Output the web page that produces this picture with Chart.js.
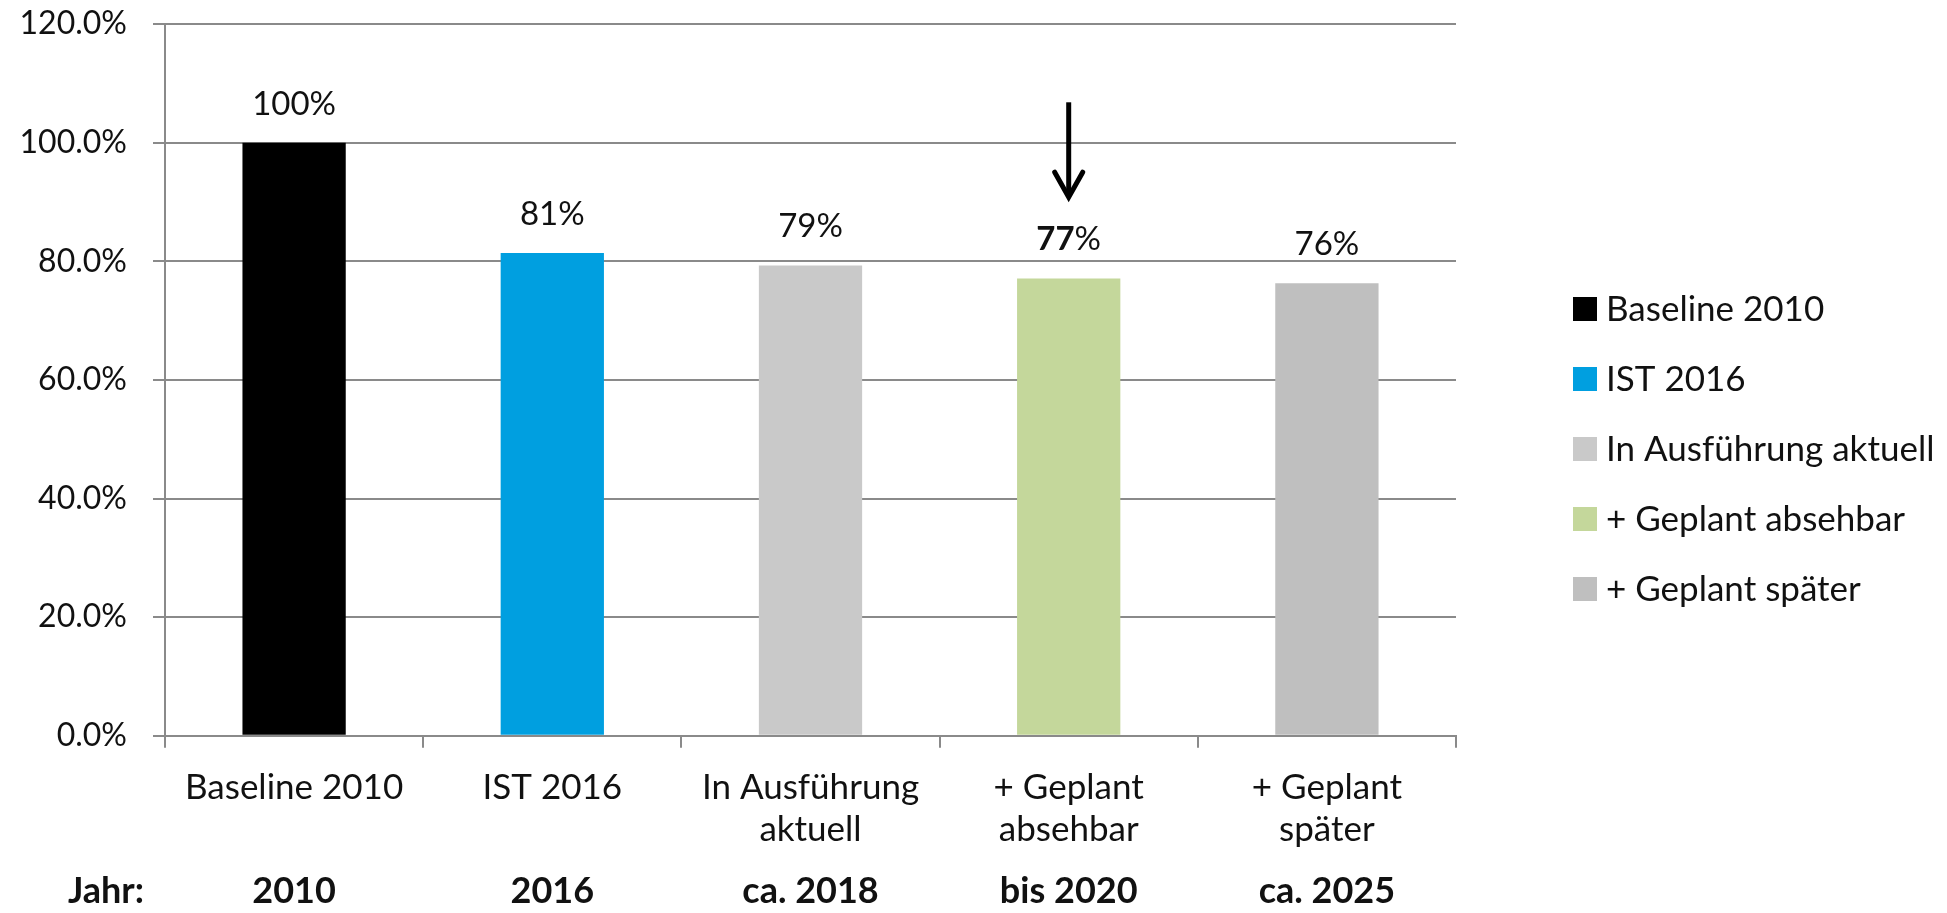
<!DOCTYPE html>
<html>
<head>
<meta charset="utf-8">
<script src="https://cdn.jsdelivr.net/npm/chart.js@4"></script>
<style>
  body { margin: 0; background: #fff; }
</style>
</head>
<body>
<canvas id="myChart" width="1947" height="913"></canvas>
<script>
const categories = [['Baseline 2010'], ['IST 2016'], ['In Ausführung', 'aktuell'], ['+ Geplant', 'absehbar'], ['+ Geplant', 'später']];
const legendLabels = ['Baseline 2010', 'IST 2016', 'In Ausführung aktuell', '+ Geplant absehbar', '+ Geplant später'];
const years = ['2010', '2016', 'ca. 2018', 'bis 2020', 'ca. 2025'];
const values = [100, 81.4, 79.3, 77.1, 76.3];
const valueLabels = ['100%', '81%', '79%', '77%', '76%'];
const barColors = ['#000000', '#009fe0', '#c9c9c9', '#c4d79b', '#bfbfbf'];
const yMax = 120;
const yStep = 20;
const yearRowTitle = 'Jahr:';
// arrow above "bis 2020"
const arrowIndex = 3;
const arrowFrom = 106.8;
const arrowTo = 90.8;

const FONT = 'Lato';
const TEXT = '#111111';
const GRID = '#8a8a8a';

const valueLabelPlugin = {
  id: 'valueLabels',
  afterDatasetsDraw(chart) {
    const ctx = chart.ctx;
    const meta = chart.getDatasetMeta(0);
    ctx.save();
    ctx.fillStyle = TEXT;
    ctx.textBaseline = 'alphabetic';
    meta.data.forEach((bar, i) => {
      const txt = valueLabels[i];
      const y = bar.y - 28;
      if (i === arrowIndex) {
        // the number is bold, the percent sign is not
        const num = txt.replace('%', '');
        ctx.font = 'bold 33px ' + FONT;
        const w1 = ctx.measureText(num).width;
        ctx.font = '33px ' + FONT;
        const w2 = ctx.measureText('%').width;
        const x0 = bar.x - (w1 + w2) / 2;
        ctx.textAlign = 'left';
        ctx.font = 'bold 33px ' + FONT;
        ctx.fillText(num, x0, y);
        ctx.font = '33px ' + FONT;
        ctx.fillText('%', x0 + w1, y);
      } else {
        ctx.font = '33px ' + FONT;
        ctx.textAlign = 'center';
        ctx.fillText(txt, bar.x, y);
      }
    });
    ctx.restore();
  }
};

const arrowPlugin = {
  id: 'arrow',
  afterDraw(chart) {
    const { ctx, scales: { x, y } } = chart;
    const ax = x.getPixelForValue(arrowIndex);
    const y1 = y.getPixelForValue(arrowFrom);
    const y2 = y.getPixelForValue(arrowTo);
    ctx.save();
    ctx.strokeStyle = '#000';
    ctx.lineWidth = 5;
    ctx.lineCap = 'butt';
    ctx.beginPath();
    ctx.moveTo(ax, y1);
    ctx.lineTo(ax, y2 - 2);
    ctx.stroke();
    ctx.lineJoin = 'miter';
    ctx.lineCap = 'round';
    ctx.beginPath();
    ctx.moveTo(ax - 14, y2 - 25);
    ctx.lineTo(ax, y2);
    ctx.lineTo(ax + 14, y2 - 25);
    ctx.stroke();
    ctx.restore();
  }
};

const sideLegendPlugin = {
  id: 'sideLegend',
  afterDraw(chart) {
    const { ctx, chartArea } = chart;
    const bx = chartArea.right + 117;
    const top = 309;
    const gap = 70;
    ctx.save();
    ctx.font = '35px ' + FONT;
    ctx.textBaseline = 'middle';
    ctx.textAlign = 'left';
    legendLabels.forEach((lab, i) => {
      const cy = top + i * gap;
      ctx.fillStyle = barColors[i];
      ctx.fillRect(bx, cy - 12, 24, 24);
      ctx.fillStyle = TEXT;
      ctx.fillText(lab, bx + 33, cy + 1);
    });
    ctx.restore();
  }
};

const yearTitlePlugin = {
  id: 'yearTitle',
  afterDraw(chart) {
    const { ctx } = chart;
    const s = chart.scales.years;
    ctx.save();
    ctx.font = 'bold 36px ' + FONT;
    ctx.fillStyle = TEXT;
    ctx.textAlign = 'center';
    ctx.textBaseline = 'middle';
    ctx.fillText(yearRowTitle, 106, s.top + s.height / 2);
    ctx.restore();
  }
};

new Chart(document.getElementById('myChart'), {
  type: 'bar',
  data: {
    labels: categories,
    datasets: [{
      data: values,
      backgroundColor: barColors,
      borderWidth: 0,
      barPercentage: 0.4,
      categoryPercentage: 1.0,
    }],
  },
  options: {
    responsive: false,
    animation: false,
    layout: { padding: { left: 0, right: 491, top: 24, bottom: 0 } },
    plugins: {
      legend: { display: false },
      tooltip: { enabled: false },
    },
    scales: {
      x: {
        weight: 0,
        offset: true,
        grid: { offset: true, drawOnChartArea: false, drawTicks: true, tickLength: 12, color: GRID, lineWidth: 2 },
        border: { color: GRID, width: 2 },
        ticks: { color: TEXT, font: { family: FONT, size: 35, lineHeight: 1.2 }, padding: 19, maxRotation: 0, autoSkip: false },
      },
      years: {
        type: 'category',
        position: 'bottom',
        labels: years,
        weight: 1,
        offset: true,
        grid: { display: false, drawTicks: false },
        border: { display: false },
        ticks: { color: TEXT, font: { family: FONT, size: 36, weight: 'bold', lineHeight: 1.2 }, padding: 0, maxRotation: 0, autoSkip: false },
      },
      y: {
        min: 0,
        max: yMax,
        afterFit: (scale) => {
          scale.width = 165;
          scale.paddingTop = 0;
          scale.paddingBottom = 0;
        },
        grid: { color: GRID, lineWidth: 2, drawTicks: true, tickLength: 12 },
        border: { color: GRID, width: 2 },
        ticks: {
          stepSize: yStep,
          color: TEXT,
          padding: 26,
          font: { family: FONT, size: 32 },
          callback: (v) => v.toFixed(1) + '%',
        },
      },
    },
  },
  plugins: [valueLabelPlugin, arrowPlugin, sideLegendPlugin, yearTitlePlugin],
});
</script>
</body>
</html>
